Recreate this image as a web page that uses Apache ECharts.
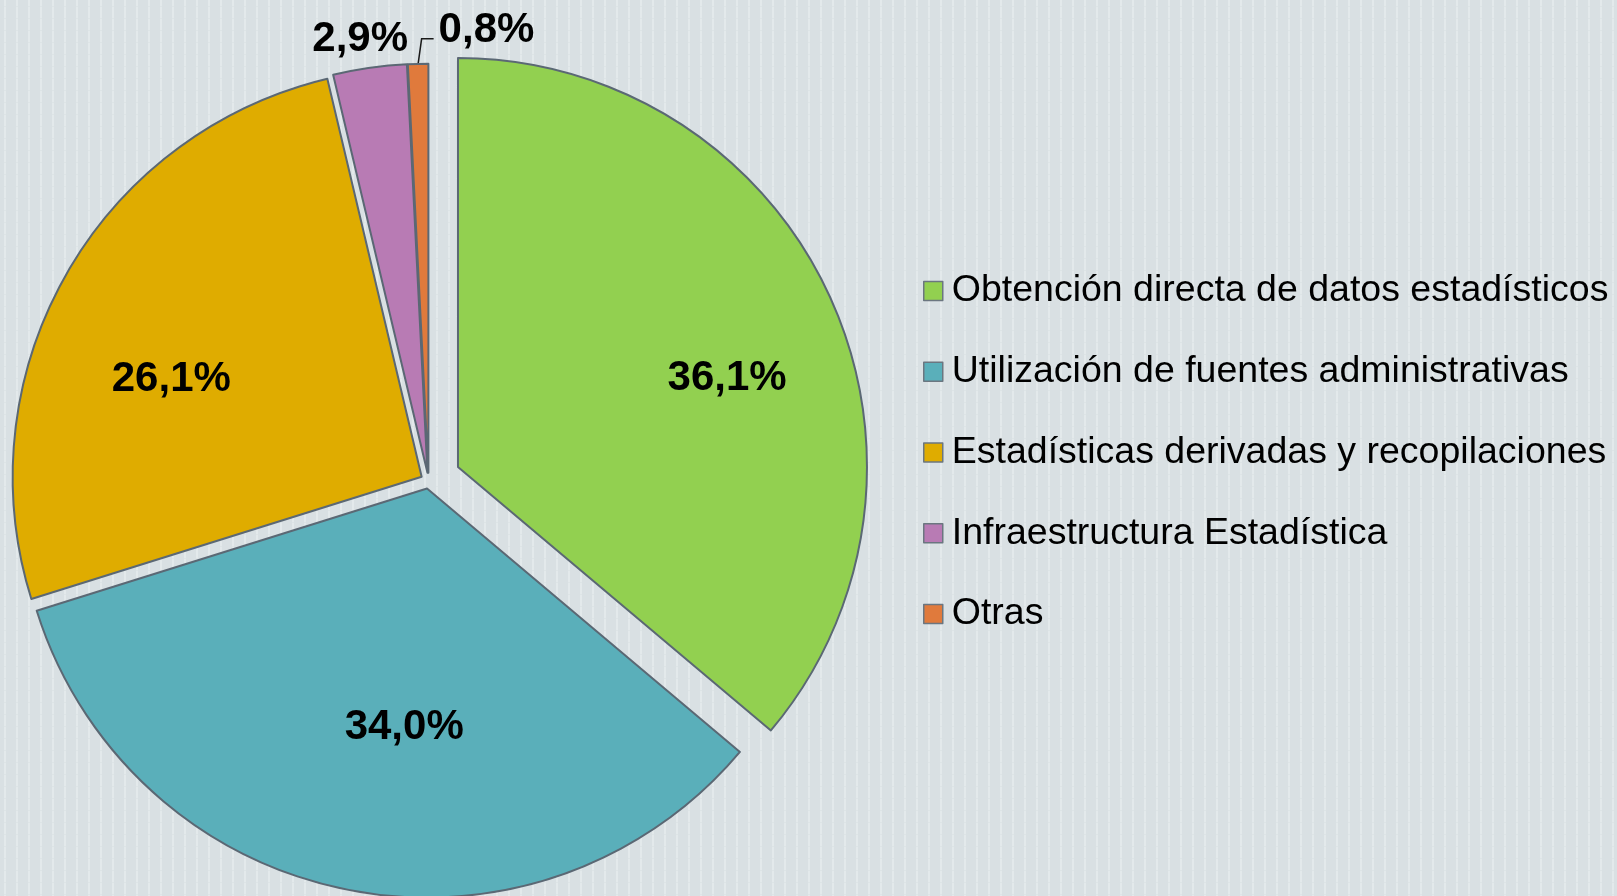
<!DOCTYPE html>
<html><head><meta charset="utf-8">
<script src="https://cdn.jsdelivr.net/npm/echarts@6/dist/echarts.min.js"></script>
<style>html,body{margin:0;padding:0;background:#dbe2e5;} #c{width:1617px;height:896px;}</style>
</head><body><div id="c"></div>
<script>
// ---- data ----
const categories = [
  'Obtención directa de datos estadísticos',
  'Utilización de fuentes administrativas',
  'Estadísticas derivadas y recopilaciones',
  'Infraestructura Estadística',
  'Otras'
];
const values = [36.1, 34.0, 26.1, 2.9, 0.8];

// ---- styling / layout (not data) ----
const colors = ['#92D050', '#5AAFBA', '#DFAC00', '#B87BB4', '#E07A3C'];
const baseCenter = [428.6, 480.7];
const pieRadius = 409;
const explode = [32.4, 8, 8, 8, 8];
const labelNudge = [[81, -1], [18, 35], [-70, 5], [-38, -228], [0, 0]];
const FONT = 'Liberation Sans, Arial, Helvetica, sans-serif';

function bgPattern() {
  const c = document.createElement('canvas');
  c.width = 12; c.height = 12;
  const g = c.getContext('2d');
  g.fillStyle = '#d9e0e3'; g.fillRect(0, 0, 12, 12);
  g.fillStyle = '#e3e9eb'; g.fillRect(4, 0, 2, 12);
  g.fillStyle = '#dde4e6'; g.fillRect(4, 6, 2, 1);
  return c;
}

const total = values.reduce((a, b) => a + b, 0);
let cum = 0;
const series = values.map((v, i) => {
  const mid = (cum + v / 2) / total * 2 * Math.PI;
  cum += v;
  const cx = baseCenter[0] + explode[i] * Math.sin(mid);
  const cy = baseCenter[1] - explode[i] * Math.cos(mid);
  const isOutside = i === 4;
  const data = categories.map((name, j) => {
    if (j !== i) {
      return { name, value: values[j],
        itemStyle: { color: 'rgba(0,0,0,0)', borderWidth: 0 },
        label: { show: false }, labelLine: { show: false } };
    }
    return { name, value: values[j], itemStyle: { color: colors[j] } };
  });
  const s = {
    type: 'pie',
    center: [cx, cy],
    radius: pieRadius,
    startAngle: 90,
    clockwise: true,
    avoidLabelOverlap: false,
    silent: true,
    animation: false,
    emphasis: { disabled: true },
    itemStyle: { borderColor: '#5b6874', borderWidth: 2 },
    label: {
      show: true,
      position: isOutside ? 'outside' : 'inside',
      offset: labelNudge[i],
      formatter: p => values[p.dataIndex].toFixed(1).replace('.', ',') + '%',
      fontFamily: FONT, fontWeight: 'bold', fontSize: 42, color: '#000',
      textBorderWidth: 0
    },
    labelLine: { show: isOutside, length: 25, length2: 12, lineStyle: { color: '#1a1a1a', width: 1.5 } },
    data
  };
  if (isOutside) {
    s.labelLayout = function (p) {
      let p0;
      if (p.labelLinePoints && p.labelLinePoints[0]) p0 = p.labelLinePoints[0].slice();
      else p0 = [p.rect.x, p.rect.y];
      const p1 = [p0[0] + 3.5, p0[1] - 25];
      const p2 = [p1[0] + 12, p1[1]];
      return { x: p2[0] + 5, y: p1[1] - 8, align: 'left', verticalAlign: 'middle', labelLinePoints: [p0, p1, p2] };
    };
  }
  return s;
});

const chart = echarts.init(document.getElementById('c'), null, { renderer: 'canvas' });
chart.setOption({
  backgroundColor: { image: bgPattern(), repeat: 'repeat' },
  animation: false,
  legend: {
    orient: 'vertical', left: 923, top: 271,
    itemWidth: 19, itemHeight: 19, itemGap: 40.75,
    icon: 'rect', selectedMode: false, padding: 0,
    itemStyle: { borderColor: '#6b7680', borderWidth: 1.5 },
    textStyle: { fontFamily: FONT, fontSize: 37.5, color: '#000', lineHeight: 40, padding: [0, 0, 0, 4] },
    data: categories.map((n, i) => ({ name: n, itemStyle: { color: colors[i] } }))
  },
  series
});
</script>
</body></html>
